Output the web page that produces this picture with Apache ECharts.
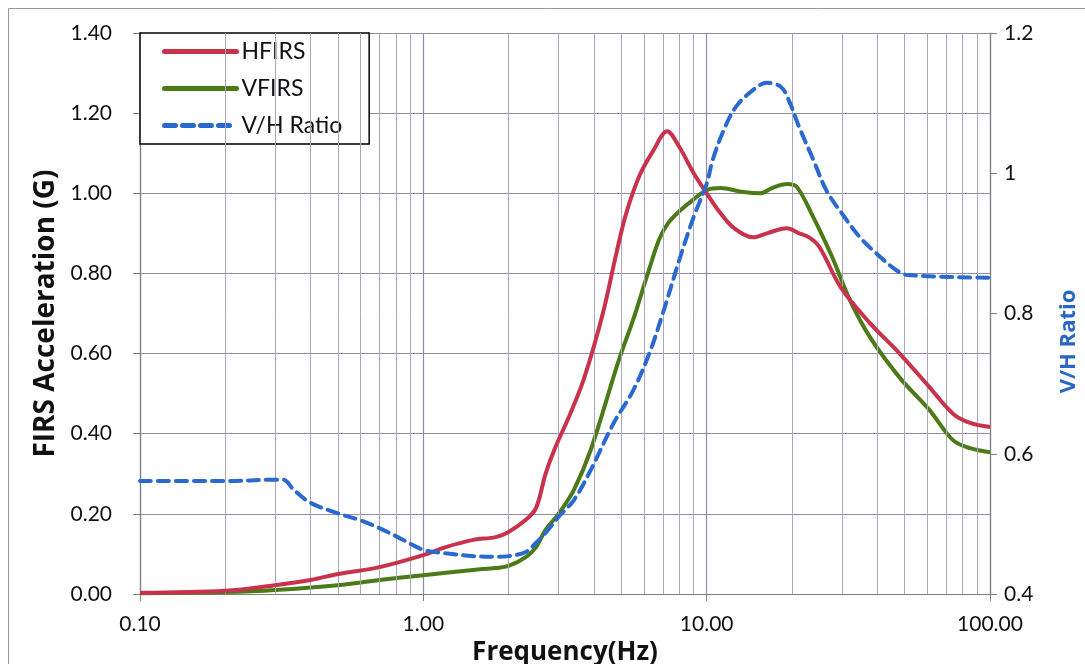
<!DOCTYPE html>
<html>
<head>
<meta charset="utf-8">
<script src="https://cdn.jsdelivr.net/npm/echarts@6/dist/echarts.min.js"></script>
<style>html,body{margin:0;padding:0;background:#fff;}#c{width:1085px;height:664px;}</style>
</head>
<body>
<div id="c"></div>
<script>
var hfirsData = [
  [0.1,0.003],[0.2,0.008],[0.3,0.022],[0.4,0.035],[0.5,0.05],[0.7,0.067],[1.0,0.097],[1.2,0.117],
  [1.5,0.135],[1.8,0.142],[2.0,0.155],[2.3,0.185],[2.5,0.215],[2.7,0.30],[2.9,0.36],[3.3,0.45],
  [3.7,0.54],[4.3,0.70],[4.8,0.85],[5.2,0.95],[5.8,1.045],[6.5,1.108],[7.25,1.155],[8.0,1.116],
  [9.0,1.05],[10,1.0],[11.2,0.95],[12.5,0.913],[14.6,0.89],[16.3,0.90],[19.2,0.913],[21.2,0.90],
  [23,0.89],[25,0.866],[29.7,0.766],[37.7,0.676],[48,0.60],[61,0.517],[74,0.45],[85,0.427],[100,0.417]
];
var vfirsData = [
  [0.1,0.002],[0.2,0.005],[0.3,0.01],[0.5,0.022],[0.7,0.035],[1.0,0.047],[1.5,0.06],[1.8,0.065],
  [2.0,0.07],[2.3,0.092],[2.5,0.117],[2.7,0.16],[3.0,0.20],[3.4,0.26],[3.9,0.36],[4.9,0.584],
  [5.5,0.684],[6.2,0.80],[6.8,0.885],[7.3,0.925],[8.0,0.955],[9.0,0.985],[10,1.008],[11.2,1.013],
  [13.5,1.003],[15.5,1.0],[17,1.013],[19.2,1.023],[20.8,1.016],[23.8,0.94],[26,0.884],[28,0.834],
  [32,0.734],[37.7,0.641],[48,0.54],[61,0.46],[74,0.384],[85,0.364],[100,0.354]
];
var ratioData = [
  [0.1,0.561],[0.2,0.561],[0.3,0.563],[0.32,0.563],[0.35,0.548],[0.4,0.530],[0.5,0.515],[0.6,0.505],
  [0.7,0.494],[0.85,0.477],[1.0,0.463],[1.2,0.458],[1.5,0.454],[1.8,0.453],[2.0,0.454],[2.3,0.46],
  [2.5,0.473],[2.7,0.487],[3.0,0.51],[3.4,0.534],[3.9,0.577],[4.7,0.644],[5.5,0.69],[6.3,0.745],
  [7.0,0.80],[8.0,0.876],[9.0,0.938],[10,0.985],[10.5,1.019],[11.5,1.062],[12.7,1.095],[14.6,1.119],
  [16.3,1.129],[18.3,1.123],[19.5,1.104],[21.2,1.066],[23.8,1.019],[26.5,0.975],[30.6,0.938],
  [34.7,0.909],[40.9,0.881],[46.6,0.862],[51,0.855],[100,0.851]
];
var minorFreqs = [0.2,0.3,0.4,0.5,0.6,0.7,0.8,0.9,2,3,4,5,6,7,8,9,20,30,40,50,60,70,80,90];
var seriesNames = ['HFIRS','VFIRS','V/H Ratio'];

var FONT = 'Lato, "Open Sans", sans-serif';
var BOLD = '"Open Sans", Lato, sans-serif';
var chart = echarts.init(document.getElementById('c'));
chart.setOption({
  backgroundColor: '#ffffff',
  animation: false,
  graphic: [{
    type: 'rect', shape: {x: 8.5, y: 8.5, width: 1100, height: 700},
    style: {fill: 'none', stroke: '#9a9a9a', lineWidth: 1}, silent: true, z: -10
  }],
  grid: {left: 140, right: 95, top: 33, bottom: 70, containLabel: false, outerBoundsMode: 'none'},
  legend: {
    data: seriesNames,
    orient: 'vertical',
    left: 140, top: 33,
    padding: [7, 27, 7, 22],
    itemGap: 14,
    itemWidth: 72, itemHeight: 20,
    backgroundColor: '#ffffff',
    borderColor: '#000000', borderWidth: 1.5, borderRadius: 0,
    itemStyle: {opacity: 0},
    lineStyle: {width: 5, cap: 'round'},
    textStyle: {fontFamily: FONT, fontSize: 23, lineHeight: 20, color: '#111'}
  },
  xAxis: {
    type: 'log', logBase: 10, min: 0.1, max: 100,
    name: 'Frequency(Hz)', nameLocation: 'middle', nameGap: 28,
    nameTextStyle: {fontFamily: BOLD, fontSize: 26, fontWeight: 'bold', color: '#111'},
    axisLine: {lineStyle: {color: '#7f7f7f', width: 1.2}},
    axisTick: {show: true, inside: false, length: 7, lineStyle: {color: '#7f7f7f'}},
    axisLabel: {fontFamily: FONT, fontSize: 21, color: '#111', margin: 20,
      formatter: function (v) { return Number(v).toFixed(2); }},
    splitLine: {show: true, lineStyle: {color: '#8e8ca6', width: 1.2}}
  },
  yAxis: [{
    type: 'value', min: 0, max: 1.4, interval: 0.2,
    name: 'FIRS Acceleration (G)', nameLocation: 'middle', nameGap: 78,
    nameTextStyle: {fontFamily: BOLD, fontSize: 28, fontWeight: 'bold', color: '#111'},
    axisLine: {show: true, lineStyle: {color: '#7f7f7f', width: 1.2}},
    axisTick: {show: true, inside: false, length: 7, lineStyle: {color: '#7f7f7f'}},
    axisLabel: {fontFamily: FONT, fontSize: 21, color: '#111', margin: 28,
      formatter: function (v) { return Number(v).toFixed(2); }},
    splitLine: {show: true, lineStyle: {color: '#8e8ca6', width: 1.2}}
  }, {
    type: 'value', min: 0.4, max: 1.2, interval: 0.2,
    name: 'V/H Ratio', nameLocation: 'middle', nameGap: 68, nameRotate: 90,
    nameTextStyle: {fontFamily: BOLD, fontSize: 22, fontWeight: 'bold', color: '#2a66c4', padding: [0, 56, 0, 0]},
    axisLine: {show: true, lineStyle: {color: '#7f7f7f', width: 1.2}},
    axisTick: {show: true, inside: false, length: 7, lineStyle: {color: '#7f7f7f'}},
    axisLabel: {fontFamily: FONT, fontSize: 21, color: '#111', margin: 14,
      formatter: function (v) { return String(Math.round(v * 10) / 10); }},
    splitLine: {show: false}
  }],
  series: [{
    name: 'gridMinor', type: 'line', data: [], silent: true, z: 0,
    markLine: {
      silent: true, symbol: ['none', 'none'], label: {show: false},
      lineStyle: {color: '#a9a6c4', width: 1, type: 'solid'},
      emphasis: {disabled: true},
      data: minorFreqs.map(function (f) { return {xAxis: f}; })
    }
  }, {
    name: seriesNames[0], type: 'line', data: hfirsData, smooth: 0.35,
    showSymbol: false, symbol: 'none', z: 5,
    lineStyle: {color: '#c8324c', width: 4},
    itemStyle: {color: '#c8324c'}
  }, {
    name: seriesNames[1], type: 'line', data: vfirsData, smooth: 0.35,
    showSymbol: false, symbol: 'none', z: 4,
    lineStyle: {color: '#4b7a16', width: 4},
    itemStyle: {color: '#4b7a16'}
  }, {
    name: seriesNames[2], type: 'line', data: ratioData, yAxisIndex: 1, smooth: 0.35,
    showSymbol: false, symbol: 'none', z: 6,
    lineStyle: {color: '#2a6ad0', width: 4, type: [11, 7], cap: 'round'},
    itemStyle: {color: '#2a6ad0'}
  }]
});
</script>
</body>
</html>
